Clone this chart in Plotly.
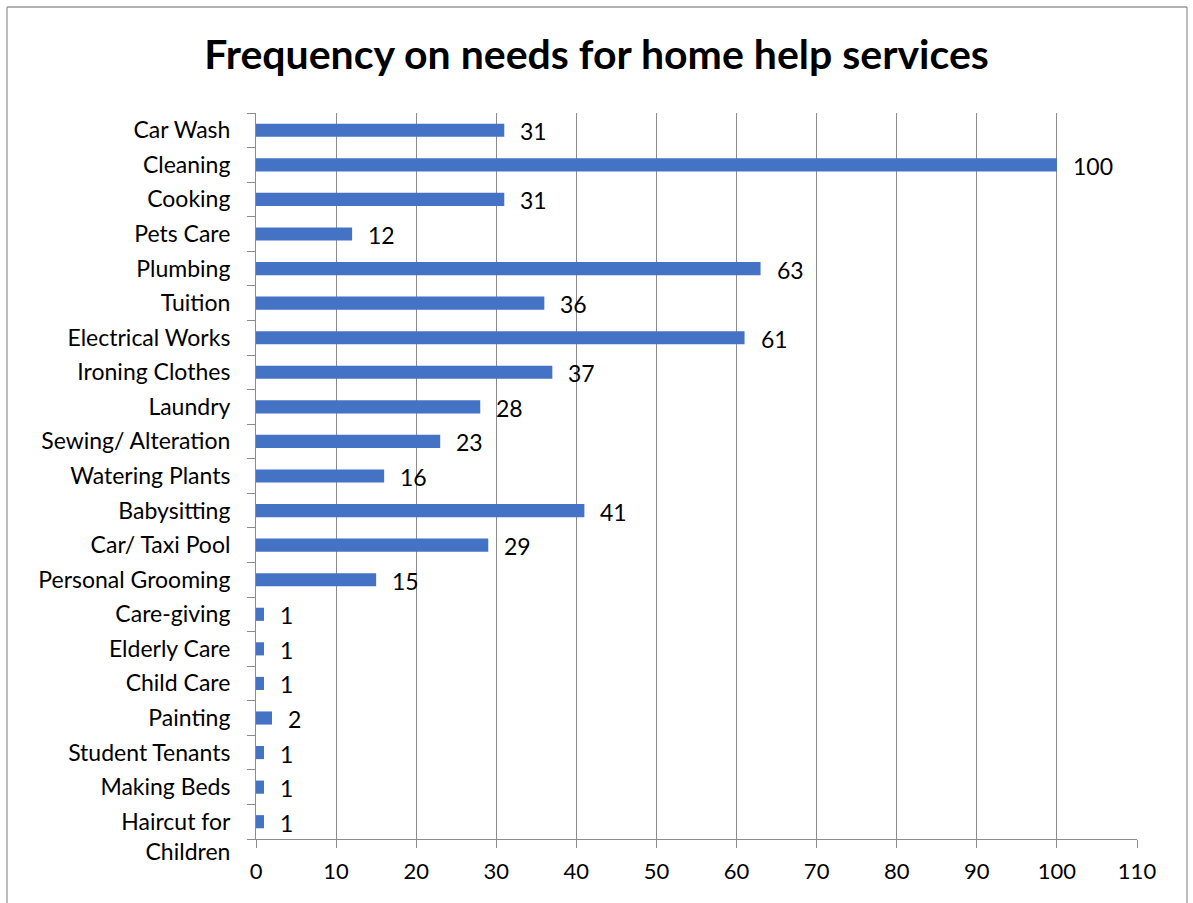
import plotly.graph_objects as go

# Services listed top to bottom, with the number of respondents needing each
categories = [
    "Car Wash", "Cleaning", "Cooking", "Pets Care", "Plumbing", "Tuition",
    "Electrical Works", "Ironing Clothes", "Laundry", "Sewing/ Alteration",
    "Watering Plants", "Babysitting", "Car/ Taxi Pool", "Personal Grooming",
    "Care-giving", "Elderly Care", "Child Care", "Painting", "Student Tenants",
    "Making Beds", "Haircut for Children",
]
counts = [31, 100, 31, 12, 63, 36, 61, 37, 28, 23, 16, 41, 29, 15, 1, 1, 1, 2, 1, 1, 1]
x_ticks = list(range(0, 111, 10))

# long names wrap: first line stays level with the bar, the rest hangs below
def wrap_label(name, limit=18):
    if len(name) <= limit:
        return name
    head, tail = name.rsplit(" ", 1)
    return "&nbsp;<br>" + head + "<br>" + tail

tick_text = [wrap_label(c) for c in categories]

FONT = "Lato, 'Open Sans', sans-serif"
GRID = "#8c8c8c"
BAR = "#4472C4"

W, H = 1193, 903
ML, MR, MT, MB = 256, 56, 113, 64
PW, PH = W - ML - MR, H - MT - MB

fig = go.Figure(go.Bar(
    x=counts,
    y=categories,
    orientation="h",
    marker=dict(color=BAR, line=dict(width=0)),
    width=0.38,
    hoverinfo="x+y",
))

# value labels just right of each bar end
for cat, val in zip(categories, counts):
    fig.add_annotation(
        x=val, y=cat, text=str(val), showarrow=False,
        xanchor="left", yanchor="middle", xshift=14, yshift=-1,
        font=dict(family=FONT, size=23, color="black"),
    )

# chart frame (bottom edge runs past the page)
def px_x(p):
    return (p - ML) / PW

def px_y(p):
    return (H - MB - p) / PH

frame = dict(type="line", xref="paper", yref="paper",
             line=dict(color="#9a9a9a", width=1.3))
fig.add_shape(**frame, x0=px_x(7), x1=px_x(7), y0=px_y(7), y1=px_y(905))
fig.add_shape(**frame, x0=px_x(7), x1=px_x(1187), y0=px_y(7), y1=px_y(7))
fig.add_shape(**frame, x0=px_x(1187), x1=px_x(1187), y0=px_y(7), y1=px_y(905))

fig.update_layout(
    width=W, height=H,
    margin=dict(l=ML, r=MR, t=MT, b=MB, pad=0),
    paper_bgcolor="white", plot_bgcolor="white",
    showlegend=False,
    title=dict(
        text="<b>Frequency on needs for home help services</b>",
        x=0.5, xanchor="center", y=1 - 55 / H, yanchor="middle",
        font=dict(family=FONT, size=41, color="black"),
    ),
    xaxis=dict(
        range=[0, 110], tickvals=x_ticks, ticktext=[str(v) for v in x_ticks],
        showgrid=True, gridcolor=GRID, gridwidth=1,
        showline=True, linecolor=GRID, linewidth=1,
        ticks="outside", ticklen=8, tickcolor=GRID,
        tickfont=dict(family=FONT, size=22, color="black"),
        ticklabelstandoff=5,
        zeroline=False, fixedrange=True,
    ),
    yaxis=dict(
        categoryorder="array", categoryarray=categories, autorange="reversed",
        tickvals=categories, ticktext=tick_text,
        showgrid=False, showline=True, linecolor=GRID, linewidth=1,
        ticks="outside", ticklen=8, tickcolor=GRID, tickson="boundaries",
        tickfont=dict(family=FONT, size=23, color="black"),
        ticklabelstandoff=20,
        zeroline=False, fixedrange=True,
    ),
)

fig.write_html("out.html")
